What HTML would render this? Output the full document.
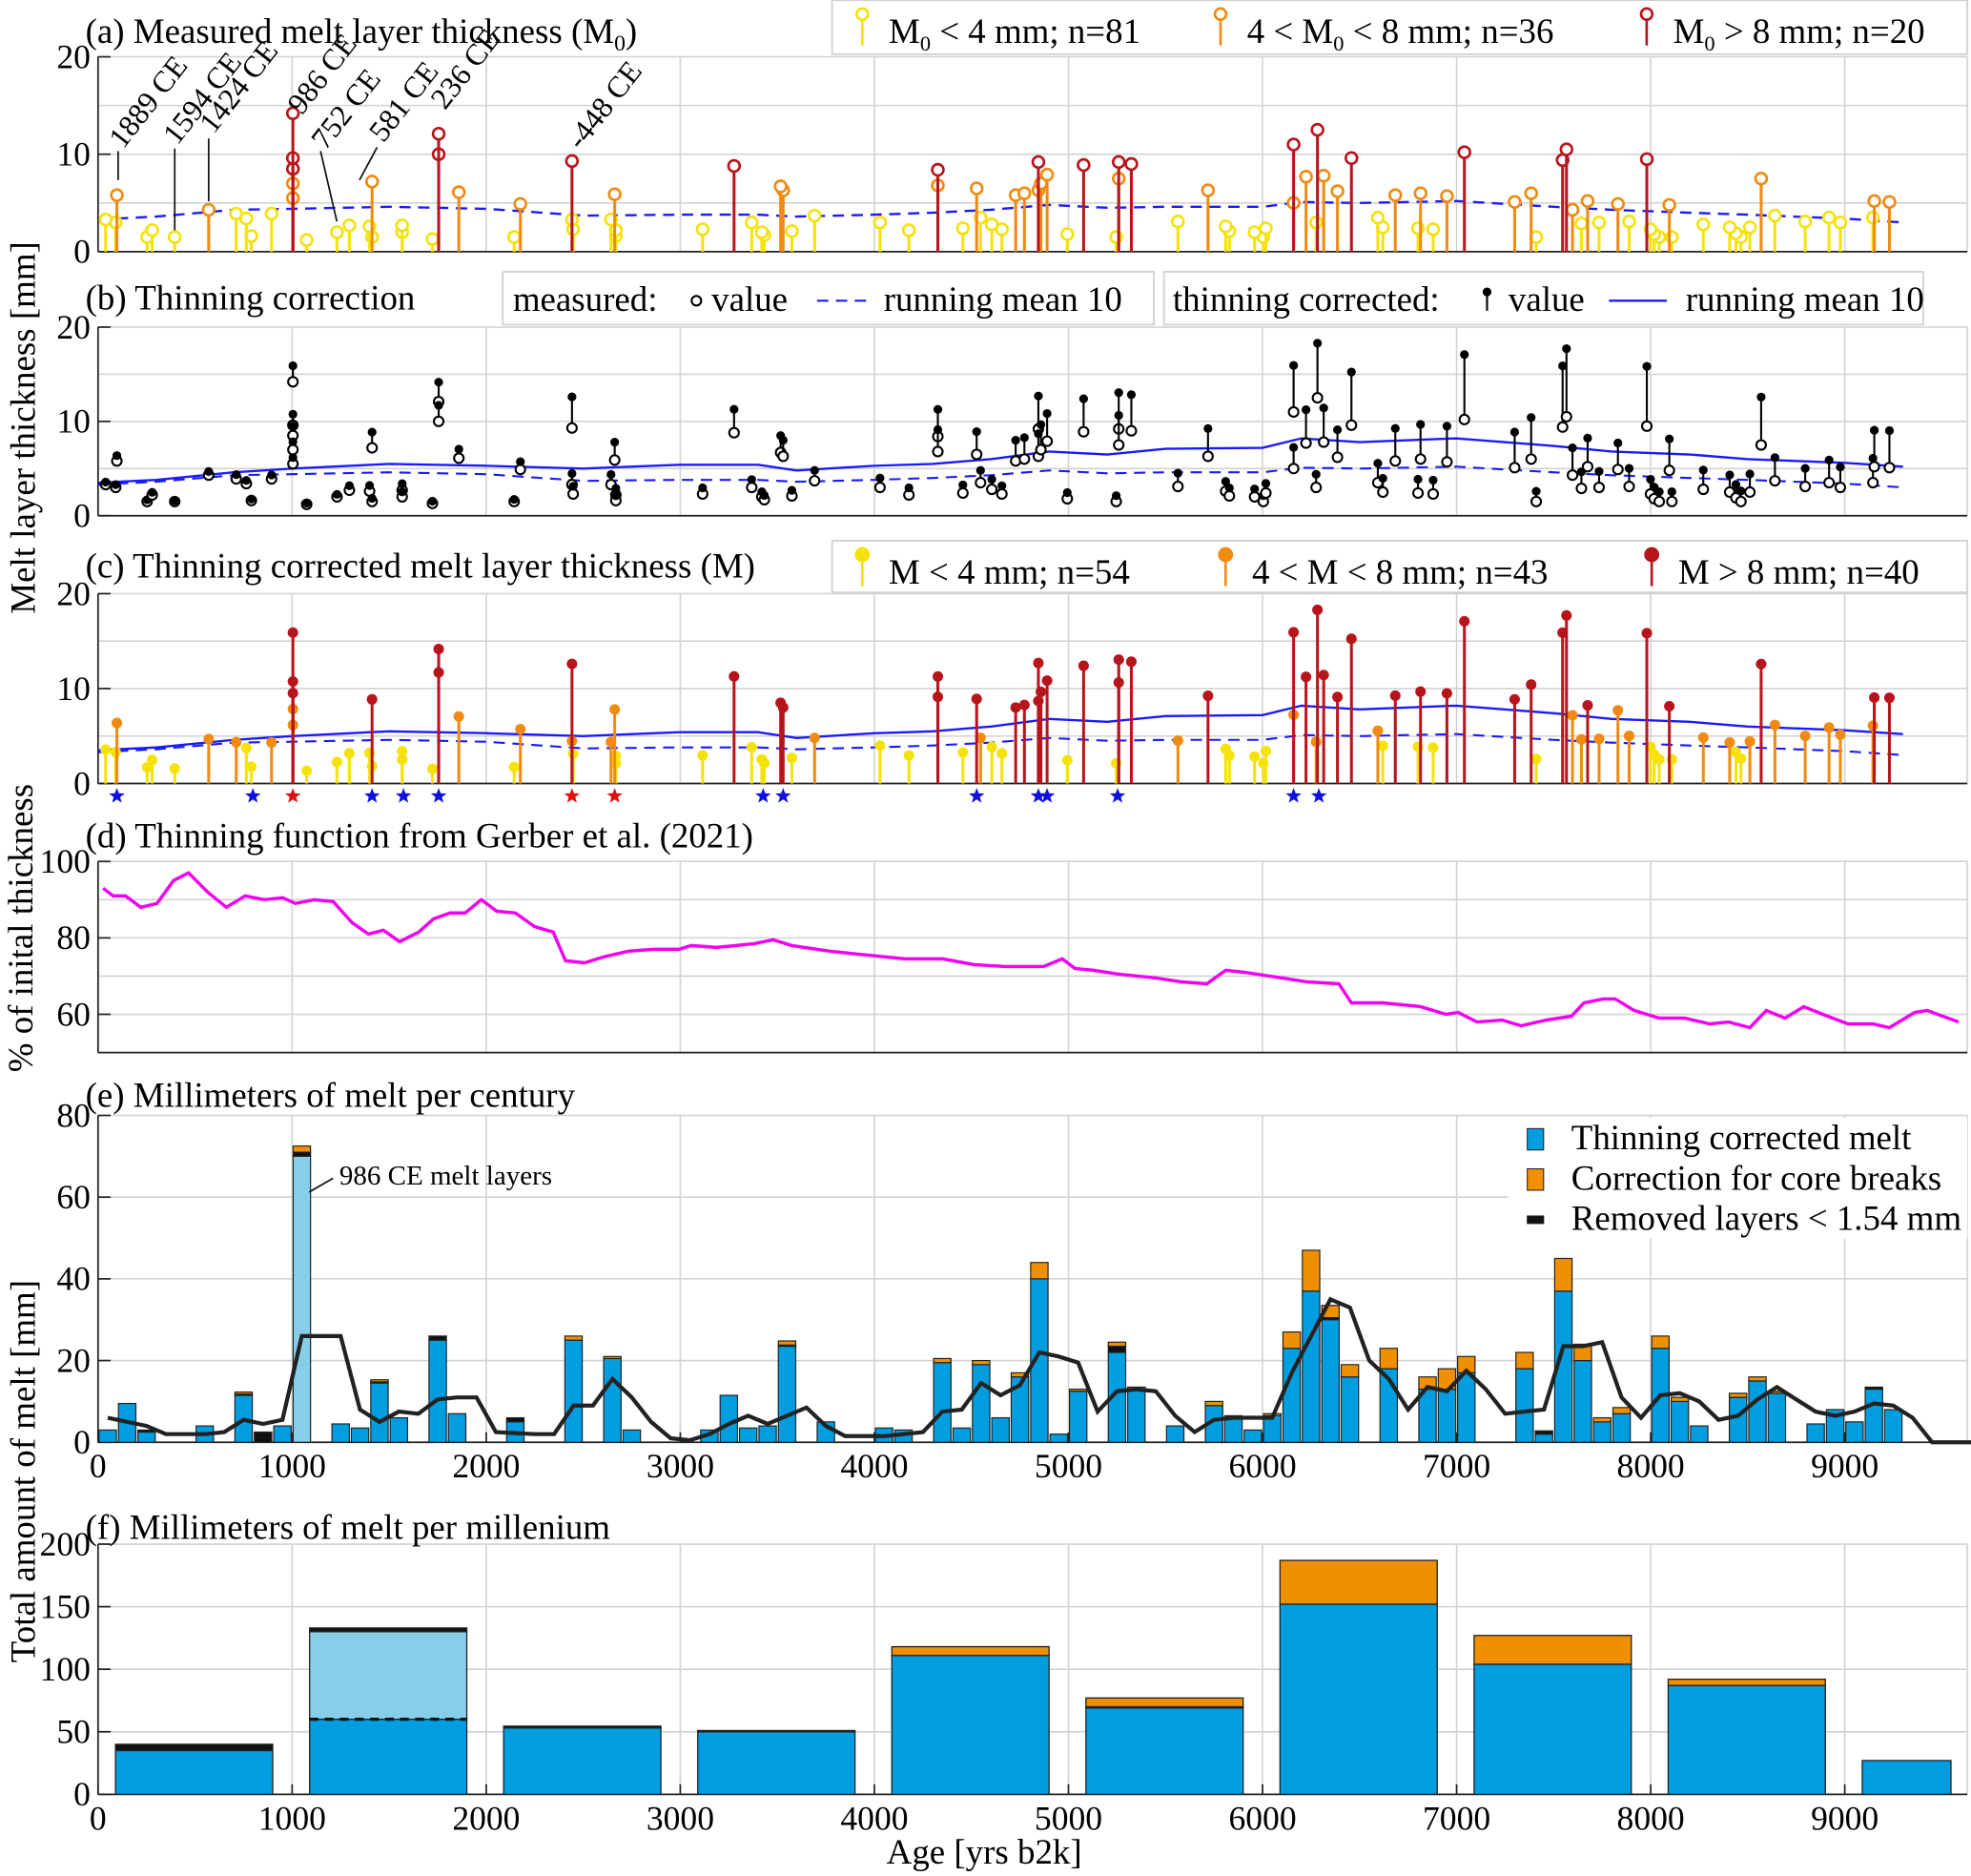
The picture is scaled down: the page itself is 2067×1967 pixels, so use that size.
<!DOCTYPE html>
<html><head><meta charset="utf-8"><style>
html,body{margin:0;padding:0;background:#fff}
svg, svg text{font-family:"Liberation Serif","DejaVu Serif",serif}
</style></head><body>
<svg id="chart" width="2067" height="1962" viewBox="0 0 1568 1488" font-family="Liberation Serif, DejaVu Serif, serif" xmlns="http://www.w3.org/2000/svg"></svg>
<script>
// ---------- DATA ----------
const meltAges = [39,91,97,253,279,395,570,712,764,790,894,1004,1004,1004,1004,1004,1075,1231,1295,1399,1412,1412,1567,1567,1723,1755,1755,1859,2144,2176,2442,2442,2448,2643,2662,2668,2668,3115,3277,3368,3420,3433,3517,3530,3575,3692,4029,4178,4327,4327,4456,4527,4547,4605,4657,4728,4773,4845,4845,4858,4890,4994,5078,5246,5259,5259,5324,5564,5719,5810,5829,5959,6004,6017,6160,6160,6224,6276,6283,6315,6386,6458,6594,6620,6684,6801,6814,6879,6950,7040,7299,7384,7410,7546,7566,7597,7643,7675,7734,7831,7889,7980,7999,8018,8044,8096,8109,8271,8407,8439,8465,8511,8569,8640,8796,8919,8977,9145,9152,9230];
const meltMeasured = [3.3,3.0,5.8,1.5,2.2,1.5,4.3,3.9,3.4,1.6,3.9,14.2,9.6,8.5,7.0,5.5,1.2,2.0,2.7,2.6,7.2,1.5,2.7,2.0,1.3,12.1,10.0,6.1,1.5,4.9,9.3,3.3,2.3,3.3,5.9,2.2,1.6,2.3,8.8,3.0,2.0,1.7,6.7,6.3,2.1,3.7,3.0,2.2,8.4,6.8,2.4,6.5,3.5,2.8,2.3,5.8,6.0,9.2,6.3,7.0,7.9,1.8,8.9,1.5,9.2,7.5,9.0,3.1,6.3,2.6,2.1,2.0,1.5,2.4,11.0,5.0,7.7,3.0,12.5,7.8,6.2,9.6,3.5,2.5,5.8,2.4,6.0,2.3,5.7,10.2,5.1,6.0,1.5,9.4,10.5,4.3,2.9,5.2,3.0,4.9,3.1,9.5,2.3,1.8,1.5,4.8,1.5,2.8,2.5,1.9,1.5,2.5,7.5,3.7,3.1,3.5,3.0,3.5,5.2,5.1];
const thinAges = [26,78,142,220,304,389,466,564,661,758,855,952,1017,1114,1211,1308,1393,1470,1554,1652,1729,1814,1891,1975,2053,2150,2248,2345,2409,2507,2604,2733,2863,2992,3057,3187,3381,3478,3575,3770,3964,4158,4353,4514,4676,4871,4968,5033,5130,5259,5453,5583,5713,5810,5907,6101,6231,6393,6458,6620,6814,6944,7008,7105,7235,7332,7461,7591,7656,7753,7818,7915,8044,8174,8303,8401,8511,8595,8692,8789,8886,9016,9145,9230,9360,9425,9587];
const thinPct = [93,91,91,88,89,95,97,92,88,91,90,90.5,89,90,89.5,84,81,82,79,81.5,85,86.5,86.5,90,87,86.5,83,81.5,74,73.5,75,76.5,77,77,78,77.5,78.5,79.5,78,76.5,75.5,74.5,74.5,73,72.5,72.5,74.5,72,71.5,70.5,69.5,68.5,68,71.5,71,69.5,68.5,68,63,63,62,60,60.5,58,58.5,57,58.5,59.5,63,64,64,61,59,59,57.5,58,56.5,61,59,62,60,57.5,57.5,56.5,60.5,61,58];
const rmAges = [0,300,700,1000,1500,2000,2500,3000,3400,3600,4000,4300,4600,4900,5200,5500,6000,6200,6500,7000,7500,7800,8200,8500,9000,9300];
const rmMeasured = [3.3,3.6,4.3,4.4,4.6,4.4,3.7,3.8,3.8,3.6,3.8,4.0,4.3,4.8,4.5,4.6,4.6,5.1,5.0,5.2,4.6,4.3,4.0,3.8,3.4,3.0];
const rmCorrected = [3.5,3.8,4.6,5.0,5.5,5.3,5.0,5.4,5.4,4.8,5.3,5.5,6.0,6.8,6.5,7.1,7.2,8.2,7.8,8.2,7.4,6.8,6.5,6.0,5.6,5.2];
const starBlue = [97,798,1412,1574,1755,3427,3530,4527,4845,4890,5253,6160,6290];
const starRed = [1004,2442,2662];
// per-century bins
const centBins = [0,1,2,5,7,8,9,10,12,13,14,15,17,18,21,24,26,27,31,32,33,34,35,37,40,41,43,44,45,46,47,48,49,50,52,53,55,57,58,59,60,61,62,63,64,66,68,69,70,73,74,75,76,77,78,80,81,82,84,85,86,88,89,90,91,92];
const centBlue = [3,9.5,2.5,4,11.5,0,4,70,4.5,3.5,14.5,6,25,7,5,25,20.5,3,3,11.5,3.5,4,23.5,5,3.5,3,19.5,3.5,19,6,16,40,2,12.5,22,13,4,9,6.5,3,6.5,23,37,30,16,18,13,13,17,18,2,37,20,5,7,23,10,4,11,15,12,4.5,8,5,13,8];
const centOrange = [0,0,0,0,0.5,0,0,1.5,0,0,0.5,0,0,0,0,1,0.5,0,0,0,0,0,1,0,0,0,1,0,1,0,1,4,0,0.5,1,0.5,0,1,0,0,0.5,4,10,3,3,5,3,5,4,4,0,8,4,1,1.5,3,1,0,1,1,0.5,0,0,0,0,0];
const centBlack = [0,0,0.5,0,0.3,2.5,0,1,0,0,0.3,0,1,0,1,0,0,0,0,0,0,0,0.3,0,0,0,0,0,0,0,0,0,0,0,1.5,0,0,0,0,0,0,0,0,0.5,0,0,0,0,0,0,0.8,0,0,0,0,0,0,0,0,0,0,0,0,0,0.5,0];
const rmCentAges = [0,200,300,500,600,700,800,900,1000,1200,1300,1400,1500,1600,1700,1800,1900,2000,2200,2300,2400,2500,2600,2700,2800,2900,3000,3100,3200,3300,3400,3500,3600,3700,3800,4000,4100,4200,4300,4400,4500,4600,4700,4800,4900,5000,5100,5200,5300,5400,5500,5600,5700,5800,5900,6000,6100,6200,6300,6400,6500,6600,6700,6800,6900,7000,7100,7200,7300,7400,7500,7600,7700,7800,7900,8000,8100,8200,8300,8400,8500,8600,8700,8800,8900,9000,9100,9200,9300,9400,9600];
const rmCentVals = [6,4,2,2,2.5,5.5,4.5,5.5,26,26,8,5,7.5,7,10.5,11,11,2.5,2,2,9,9,15.5,11,5,1,0.5,2,4.5,6.5,4.5,6.5,8.5,4,1.5,1.5,2,2.5,7.5,8,14.5,11.5,14,22,21,19.5,7.5,12.5,13,12.5,6.5,2.5,5.5,6,6,6,17,26,35,33,20,15.5,8,13.5,12.5,17.5,13,7,7.5,8,23.5,23.5,24.5,11,6,11.5,12,10,5.5,6.5,10.5,13.5,10.5,7.5,6.5,7.5,9.5,9,6,0,0];
// per-millennium
const milStart = [0,1000,2000,3000,4000,5000,6000,7000,8000,9000];
const milBlue = [35,130,53,50,111,69,152,104,87,27];
const milOrange = [0,0,0,0,7,7,35,23,5,0];
const milBlack = [5,3,1.5,1,0,1,0,0,0,0];
const milDark986 = 60;

// ---------- HELPERS ----------
const svg = document.getElementById('chart');
const NS = 'http://www.w3.org/2000/svg';
const FONT = 'Liberation Serif, DejaVu Serif, serif';
const FS = 28, TS = 27;
function el(tag, attrs, parent, text){
  const e = document.createElementNS(NS, tag);
  for (const k in attrs) e.setAttribute(k, attrs[k]);
  if (tag === 'text') e.setAttribute('font-family', FONT);
  if (text !== undefined) e.textContent = text;
  (parent || svg).appendChild(e);
  return e;
}
const X0 = 78, XPX = 0.1544, XR = 1565;
const X = a => X0 + a * XPX;
function yScale(top, bot, vmax, vmin){ return v => bot - (v - vmin) / (vmax - vmin) * (bot - top); }
function thin(a){
  if (a <= thinAges[0]) return thinPct[0];
  for (let i = 1; i < thinAges.length; i++) if (a <= thinAges[i]) {
    const t = (a - thinAges[i-1]) / (thinAges[i] - thinAges[i-1]);
    return thinPct[i-1] + t * (thinPct[i] - thinPct[i-1]);
  }
  return thinPct[thinPct.length - 1];
}
const YEL = '#f5e20a', ORA = '#f08a10', RED = '#b8141c', BLU = '#009ee0';
function colorFor(v){ return v < 4 ? YEL : (v < 8 ? ORA : RED); }

function panel(name, top, bot, vmax, vmin, gridStep, labels){
  const y = yScale(top, bot, vmax, vmin);
  const g = el('g', {}, svg);
  
  
  for (let a = 1000; a <= 9000; a += 1000) el('line', {x1:X(a), x2:X(a), y1:top, y2:bot, stroke:'#d2d2d2', 'stroke-width':1.2}, g);
  for (let v = vmin + gridStep; v < vmax; v += gridStep) el('line', {x1:X0, x2:XR, y1:y(v), y2:y(v), stroke:'#d2d2d2', 'stroke-width':1.2}, g);
  el('rect', {x:X0, y:top, width:XR - X0, height:bot - top, fill:'none', stroke:'#d2d2d2', 'stroke-width':1.2}, g);
  el('line', {x1:X0, x2:X0, y1:top, y2:bot, stroke:'#222', 'stroke-width':1.3}, g);
  el('line', {x1:X0, x2:XR, y1:bot, y2:bot, stroke:'#222', 'stroke-width':1.3}, g);
  labels.forEach(v => {
    el('line', {x1:X0, x2:X0 + 10, y1:y(v), y2:y(v), stroke:'#222', 'stroke-width':1.3}, g);
    const t = el('text', {x:X0 - 6, y:y(v) + 9, 'text-anchor':'end', 'font-size':TS}, g, String(v));
    
    
  });
  return {y, g};
}
function title(txt, x, yv, name){
  const t = el('text', {x:x, y:yv, 'font-size':FS}, svg);
  
  
  t.innerHTML = txt;
  return t;
}
function xTicks(bot, g){
  for (let a = 0; a <= 9000; a += 1000) {
    el('line', {x1:X(a), x2:X(a), y1:bot, y2:bot - 8, stroke:'#222', 'stroke-width':1.3}, g);
    const t = el('text', {x:X(a), y:bot + 28, 'text-anchor':'middle', 'font-size':TS}, g, String(a));
    
    
  }
}
function linePath(ages, vals, y){
  return ages.map((a, i) => (i ? 'L' : 'M') + X(a).toFixed(1) + ' ' + y(vals[i]).toFixed(1)).join(' ');
}
function star(cx, cy, r, fill, g){
  let d = '';
  for (let i = 0; i < 10; i++) {
    const rr = i % 2 ? r * 0.42 : r, an = -Math.PI / 2 + i * Math.PI / 5;
    d += (i ? 'L' : 'M') + (cx + rr * Math.cos(an)).toFixed(1) + ' ' + (cy + rr * Math.sin(an)).toFixed(1);
  }
  return el('path', {d: d + 'Z', fill: fill}, g);
}

// ---------- PANEL A ----------
const A = panel('panel-a-measured', 45, 200, 20, 0, 5, [0,10,20]);
title('(a) Measured melt layer thickness (M<tspan font-size="18" dy="6">0</tspan><tspan dy="-6">)</tspan>', 68, 34, 'panel-a-title');
el('path', {d: linePath(rmAges, rmMeasured, A.y), fill:'none', stroke:'#1a1aff', 'stroke-width':1.8, 'stroke-dasharray':'9,6'}, A.g);
const orderIdx = meltMeasured.map((v,i)=>i).sort((i,j)=>meltMeasured[i]-meltMeasured[j]);
orderIdx.forEach(i => {
  const a = meltAges[i], v = meltMeasured[i], c = colorFor(v);
  const s = el('line', {x1:X(a), x2:X(a), y1:A.y(0), y2:A.y(v), stroke:c, 'stroke-width':2.3}, A.g);
  
  
  el('circle', {cx:X(a), cy:A.y(v), r:4.5, fill:'#fff', stroke:c, 'stroke-width':2}, A.g);
});
// annotations
const ann = [['1889 CE',98,119,94,120,94,143],['1594 CE',141,116,139,118,139,183],['1424 CE',170,107,166,110,166,160],['986 CE',240,92,0,0,0,0],['752 CE',259,120,255,120,268,176],['581 CE',305,114,300,117,286,143],['236 CE',354,88,0,0,0,0],['-448 CE',462,120,0,0,0,0]];
ann.forEach(r => {
  const t = el('text', {x:r[1], y:r[2], 'font-size':24, transform:`rotate(-52 ${r[1]} ${r[2]})`}, svg, r[0]);
  
  
  if (r[3]) el('line', {x1:r[3], y1:r[4], x2:r[5], y2:r[6], stroke:'#111', 'stroke-width':1.3});
});
// legend A
function stemLegend(x0, y0, w, h, items, name, filled){
  const g = el('g', {}, svg);
  
  
  el('rect', {x:x0, y:y0, width:w, height:h, fill:'#fff', stroke:'#cfcfcf', 'stroke-width':1.3}, g);
  items.forEach(it => {
    el('line', {x1:it[0], x2:it[0], y1:y0 + 12, y2:y0 + 36, stroke:it[1], 'stroke-width':2}, g);
    el('circle', {cx:it[0], cy:y0 + 11, r:filled ? 5 : 4.5, fill:filled ? it[1] : '#fff', stroke:it[1], 'stroke-width':2}, g);
    const t = el('text', {x:it[0] + 21, y:y0 + 34, 'font-size':FS}, g);
    t.innerHTML = it[2];
    
    
  });
}
stemLegend(662, 0, 903, 43, [[686,YEL,'M<tspan font-size="17" dy="6">0</tspan><tspan dy="-6"> &lt; 4 mm; n=81</tspan>'],[971,ORA,'4 &lt; M<tspan font-size="17" dy="6">0</tspan><tspan dy="-6"> &lt; 8 mm; n=36</tspan>'],[1310,RED,'M<tspan font-size="17" dy="6">0</tspan><tspan dy="-6"> &gt; 8 mm; n=20</tspan>']], 'legend-a', false);

// ---------- PANEL B ----------
const B = panel('panel-b-thinning', 260, 410, 20, 0, 5, [0,10,20]);
title('(b) Thinning correction', 68, 246, 'panel-b-title');
el('path', {d: linePath(rmAges, rmMeasured, B.y), fill:'none', stroke:'#1a1aff', 'stroke-width':1.6, 'stroke-dasharray':'9,6'}, B.g);
el('path', {d: linePath(rmAges, rmCorrected, B.y), fill:'none', stroke:'#1a1aff', 'stroke-width':1.8}, B.g);
meltAges.forEach((a, i) => {
  const v = meltMeasured[i], c = v * 100 / thin(a);
  el('line', {x1:X(a), x2:X(a), y1:B.y(v), y2:B.y(c), stroke:'#000', 'stroke-width':1.6}, B.g);
  el('circle', {cx:X(a), cy:B.y(v), r:3.8, fill:'#fff', stroke:'#000', 'stroke-width':1.6}, B.g);
  const d = el('circle', {cx:X(a), cy:B.y(c), r:3.5, fill:'#000'}, B.g);
  
  
});
(function(){
  const g = el('g', {}, svg);
  
  
  el('rect', {x:400, y:216, width:518, height:42, fill:'#fff', stroke:'#cfcfcf', 'stroke-width':1.3}, g);
  el('rect', {x:926, y:216, width:604, height:42, fill:'#fff', stroke:'#cfcfcf', 'stroke-width':1.3}, g);
  el('text', {x:408, y:247, 'font-size':FS}, g, 'measured:');
  el('circle', {cx:554, cy:239, r:3.8, fill:'#fff', stroke:'#000', 'stroke-width':1.6}, g);
  el('text', {x:566, y:247, 'font-size':FS}, g, 'value');
  el('line', {x1:650, x2:692, y1:239, y2:239, stroke:'#1a1aff', 'stroke-width':1.6, 'stroke-dasharray':'9,6'}, g);
  el('text', {x:703, y:247, 'font-size':FS}, g, 'running mean 10');
  el('text', {x:933, y:247, 'font-size':FS}, g, 'thinning corrected:');
  el('line', {x1:1183, x2:1183, y1:232, y2:247, stroke:'#000', 'stroke-width':1.6}, g);
  el('circle', {cx:1183, cy:232, r:3.5, fill:'#000'}, g);
  el('text', {x:1200, y:247, 'font-size':FS}, g, 'value');
  el('line', {x1:1280, x2:1326, y1:239, y2:239, stroke:'#1a1aff', 'stroke-width':1.8}, g);
  el('text', {x:1341, y:247, 'font-size':FS}, g, 'running mean 10');
})();

// ---------- PANEL C ----------
const C = panel('panel-c-corrected', 472, 623, 20, 0, 5, [0,10,20]);
title('(c) Thinning corrected melt layer thickness (M)', 68, 459, 'panel-c-title');
el('path', {d: linePath(rmAges, rmMeasured, C.y), fill:'none', stroke:'#1a1aff', 'stroke-width':1.6, 'stroke-dasharray':'9,6'}, C.g);
el('path', {d: linePath(rmAges, rmCorrected, C.y), fill:'none', stroke:'#1a1aff', 'stroke-width':1.8}, C.g);
const corr = meltAges.map((a,i)=>meltMeasured[i]*100/thin(a));
corr.map((v,i)=>i).sort((i,j)=>corr[i]-corr[j]).forEach(i => {
  const a = meltAges[i], v = corr[i], col = colorFor(v);
  const s = el('line', {x1:X(a), x2:X(a), y1:C.y(0), y2:C.y(v), stroke:col, 'stroke-width':2.3}, C.g);
  
  
  el('circle', {cx:X(a), cy:C.y(v), r:4.2, fill:col}, C.g);
});
starBlue.forEach(a => { const s = star(X(a), 633, 6.5, '#1010e0', C.g);   });
starRed.forEach(a => { const s = star(X(a), 633, 6.5, '#e01010', C.g);   });
stemLegend(662, 430, 903, 41, [[686,YEL,'M &lt; 4 mm; n=54'],[975,ORA,'4 &lt; M &lt; 8 mm; n=43'],[1314,RED,'M &gt; 8 mm; n=40']], 'legend-c', true);

// ---------- PANEL D ----------
const D = panel('panel-d-thinning-function', 685, 837, 100, 50, 10, [60,80,100]);
title('(d) Thinning function from Gerber et al. (2021)', 68, 674, 'panel-d-title');
const dl = el('path', {d: linePath(thinAges, thinPct, D.y), fill:'none', stroke:'#f000f0', 'stroke-width':2.6}, D.g);



// ---------- PANEL E ----------
const E = panel('panel-e-century', 887, 1147, 80, 0, 20, [0,20,40,60,80]);
title('(e) Millimeters of melt per century', 68, 880, 'panel-e-title');
xTicks(1147, E.g);
centBins.forEach((b, i) => {
  const x0 = X(b * 100) + 0.8, w = 100 * XPX - 1.6;
  let v0 = 0;
  const segs = [[centBlue[i], b === 10 ? '#87ceeb' : BLU], [centBlack[i], '#111'], [centOrange[i], '#f09000']];
  segs.forEach(sg => {
    if (sg[0] <= 0) return;
    const r = el('rect', {x:x0, y:E.y(v0 + sg[0]), width:w, height:E.y(v0) - E.y(v0 + sg[0]), fill:sg[1], stroke:'#222', 'stroke-width':0.9}, E.g);
    
    
    v0 += sg[0];
  });
});
const el2 = el('path', {d: linePath(rmCentAges.map(a=>a+50), rmCentVals, E.y), fill:'none', stroke:'#222', 'stroke-width':3.2}, E.g);


el('line', {x1:246, y1:948, x2:265, y2:937, stroke:'#111', 'stroke-width':1.3});
const an986 = el('text', {x:270, y:942, 'font-size':22}, svg, '986 CE melt layers');


(function(){
  const g = el('g', {}, svg);
  
  
  el('rect', {x:1200, y:889, width:365, height:96, fill:'#fff'}, g);
  [['Thinning corrected melt',BLU,904,17],['Correction for core breaks','#f09000',936,17],['Removed layers < 1.54 mm','#111',968,6]].forEach(r => {
    el('rect', {x:1215, y:r[2] - r[3]/2 + 2, width:13, height:r[3], fill:r[1], stroke:'#222', 'stroke-width':0.8}, g);
    const t = el('text', {x:1250, y:r[2] + 10, 'font-size':FS}, g, r[0]);
    
    
  });
})();

// ---------- PANEL F ----------
const F = panel('panel-f-millennium', 1228, 1427, 200, 0, 50, [0,50,100,150,200]);
title('(f) Millimeters of melt per millenium', 68, 1224, 'panel-f-title');
xTicks(1427, F.g);
milStart.forEach((s, i) => {
  const x0 = X(s + 90), x1 = X(Math.min(s + 900, 9547));
  let v0 = 0;
  const segs = i === 1 ? [[milDark986, BLU], [milBlue[i] - milDark986, '#87ceeb'], [milBlack[i], '#111']] :
    [[milBlue[i], BLU], [milBlack[i], '#111'], [milOrange[i], '#f09000']];
  segs.forEach(sg => {
    if (sg[0] <= 0) return;
    const r = el('rect', {x:x0, y:F.y(v0 + sg[0]), width:x1 - x0, height:F.y(v0) - F.y(v0 + sg[0]), fill:sg[1], stroke:'#222', 'stroke-width':1}, F.g);
    
    
    v0 += sg[0];
  });
  if (i === 1) el('line', {x1:x0, x2:x1, y1:F.y(milDark986), y2:F.y(milDark986), stroke:'#111', 'stroke-width':2.5, 'stroke-dasharray':'7,5'}, F.g);
});

// ---------- AXIS TITLES ----------
[['Melt layer thickness [mm]',18,340,'y-axis-title-thickness'],['% of inital thickness',16,738,'y-axis-title-percent'],['Total amount of melt [mm]',18,1170,'y-axis-title-total']].forEach(r => {
  const t = el('text', {x:r[1], y:r[2], 'font-size':FS, 'text-anchor':'middle', transform:`rotate(-90 ${r[1]} ${r[2]})`, dy:'0.35em'}, svg, r[0]);
  
  
});
const xt = el('text', {x:783, y:1482, 'font-size':FS, 'text-anchor':'middle'}, svg, 'Age [yrs b2k]');


</script>
</body></html>
